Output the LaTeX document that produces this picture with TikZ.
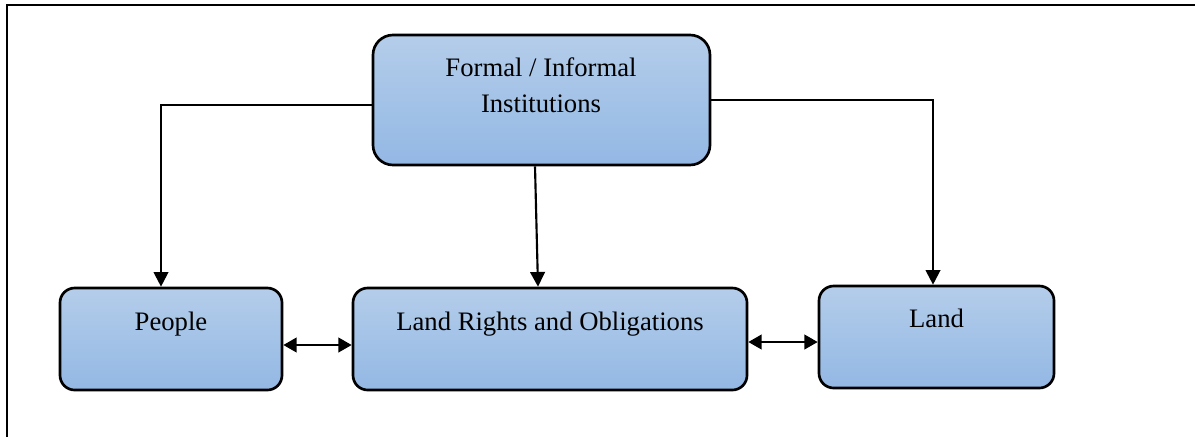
\documentclass[tikz,border=0pt]{standalone}
\usepackage{fontspec}
\setmainfont{Liberation Serif}
\usetikzlibrary{arrows.meta}
\definecolor{boxtop}{RGB}{180,205,234}
\definecolor{boxbot}{RGB}{147,184,228}
\begin{document}
\begin{tikzpicture}[x=0.75pt,y=-0.75pt,
  box/.style={draw=black, line width=2pt, top color=boxtop, bottom color=boxbot, rounded corners=11pt, inner sep=0pt},
  lbl/.style={font=\fontsize{20}{27}\selectfont, anchor=base, inner sep=0pt, align=center},
  conn/.style={line width=1.6pt, -{Triangle[length=11pt,width=11pt]}},
  dconn/.style={line width=1.6pt, {Triangle[length=10pt,width=11pt]}-{Triangle[length=10pt,width=11pt]}}]
\useasboundingbox (0,0) rectangle (1195,437);
\draw[line width=1.6pt] (7,437) -- (7,5) -- (1195,5);

\node[box, rounded corners=15pt, minimum width=252.75pt, minimum height=97.5pt] (formal) at (541.5,100) {};
\node[box, minimum width=166.5pt, minimum height=76.5pt] (people) at (171,339) {};
\node[box, minimum width=295.5pt, minimum height=76.5pt] (rights) at (550,339) {};
\node[box, minimum width=176.25pt, minimum height=76.5pt] (land) at (936.5,337) {};

\node[lbl] (formaltxt) at (541,76) {Formal / Informal};
\node[lbl] (formaltxt2) at (541,112) {Institutions};
\node[lbl] (peopletxt) at (171,330) {People};
\node[lbl] (rightstxt) at (550,330) {Land Rights and Obligations};
\node[lbl] (landtxt) at (936.5,327) {Land};

\coordinate (lc) at (161,105);
\coordinate (rc) at (933,100);
\coordinate (mt) at (535,0);
\coordinate (mb) at (538,0);
\coordinate (d1) at (0,345);
\coordinate (d2) at (0,342);

\draw[conn] (formal.west |- lc) -- (lc) -- (lc |- people.north);
\draw[conn] (formal.east |- rc) -- (rc) -- (rc |- land.north);
\draw[conn] (mt |- formal.south) -- (mb |- rights.north);
\draw[dconn] (people.east |- d1) -- (rights.west |- d1);
\draw[dconn] (rights.east |- d2) -- (land.west |- d2);
\end{tikzpicture}
\end{document}
